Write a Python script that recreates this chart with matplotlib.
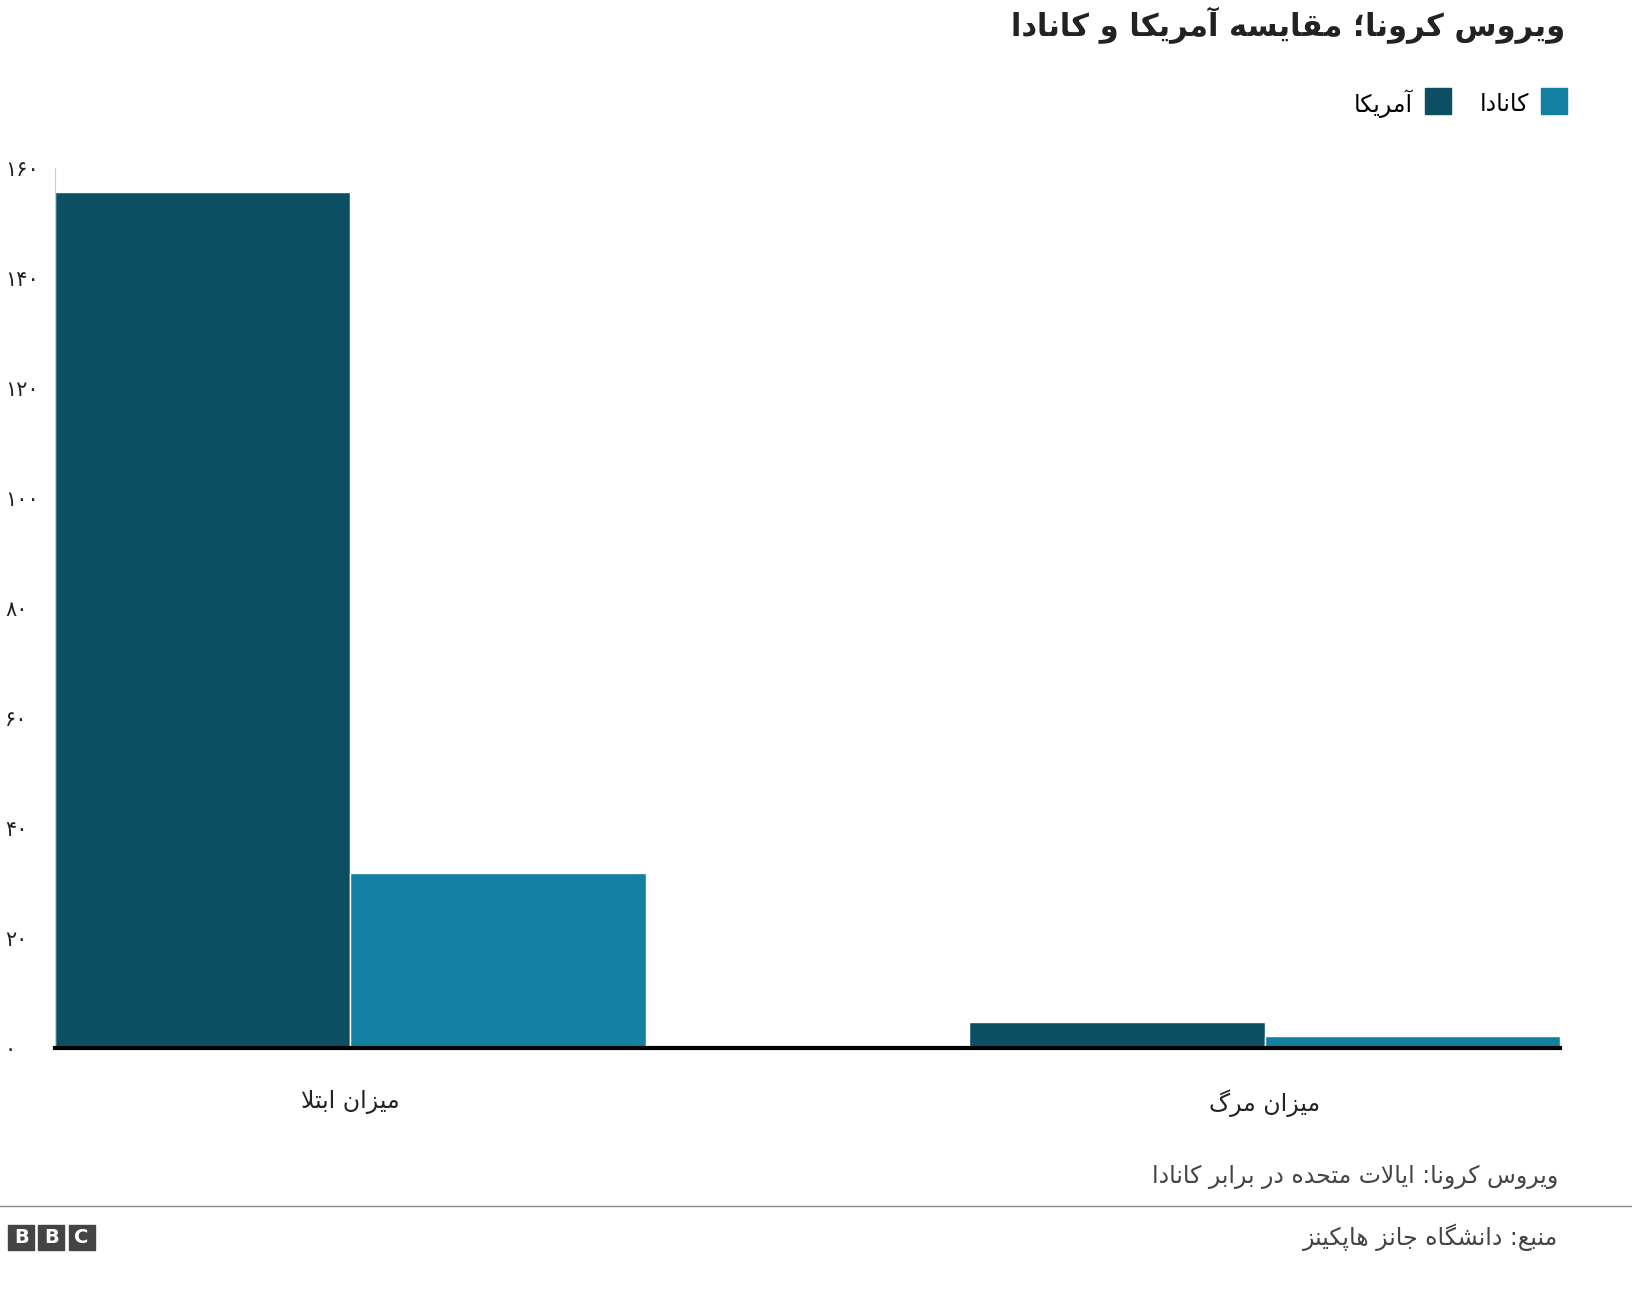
import matplotlib.pyplot as plt
import numpy as np

plt.rcParams['font.family'] = ['DejaVu Sans']

# data
categories = ['میزان ابتلا', 'میزان مرگ']
usa = [155.6, 4.7]
canada = [31.8, 2.2]
yticks = [0, 20, 40, 60, 80, 100, 120, 140, 160]
title = 'ویروس کرونا؛ مقایسه آمریکا و کانادا'
subtitle = 'ویروس کرونا: ایالات متحده در برابر کانادا'
source = 'منبع: دانشگاه جانز هاپکینز'
legend_names = ['آمریکا', 'کانادا']

# minimal persian shaping: isolated, final, initial, medial
FORMS = {
    'ا': (0xFE8D, 0xFE8E, None, None), 'آ': (0xFE81, 0xFE82, None, None),
    'ب': (0xFE8F, 0xFE90, 0xFE91, 0xFE92), 'پ': (0xFB56, 0xFB57, 0xFB58, 0xFB59),
    'ت': (0xFE95, 0xFE96, 0xFE97, 0xFE98), 'ج': (0xFE9D, 0xFE9E, 0xFE9F, 0xFEA0),
    'ح': (0xFEA1, 0xFEA2, 0xFEA3, 0xFEA4), 'د': (0xFEA9, 0xFEAA, None, None),
    'ر': (0xFEAD, 0xFEAE, None, None), 'ز': (0xFEAF, 0xFEB0, None, None),
    'س': (0xFEB1, 0xFEB2, 0xFEB3, 0xFEB4), 'ش': (0xFEB5, 0xFEB6, 0xFEB7, 0xFEB8),
    'ع': (0xFEC9, 0xFECA, 0xFECB, 0xFECC), 'ق': (0xFED5, 0xFED6, 0xFED7, 0xFED8),
    'ک': (0xFB8E, 0xFB8F, 0xFB90, 0xFB91), 'گ': (0xFB92, 0xFB93, 0xFB94, 0xFB95),
    'ل': (0xFEDD, 0xFEDE, 0xFEDF, 0xFEE0), 'م': (0xFEE1, 0xFEE2, 0xFEE3, 0xFEE4),
    'ن': (0xFEE5, 0xFEE6, 0xFEE7, 0xFEE8), 'ه': (0xFEE9, 0xFEEA, 0xFEEB, 0xFEEC),
    'و': (0xFEED, 0xFEEE, None, None), 'ی': (0xFBFC, 0xFBFD, 0xFBFE, 0xFBFF),
    'لا': (0xFEFB, 0xFEFC, None, None),
}


def shape(s):
    toks = []
    i = 0
    while i < len(s):
        if s[i:i + 2] == 'لا':
            toks.append('لا')
            i += 2
        else:
            toks.append(s[i])
            i += 1
    out = []
    for k, t in enumerate(toks):
        if t not in FORMS:
            out.append(t)
            continue
        f = FORMS[t]
        prev = toks[k - 1] if k > 0 else None
        nxt = toks[k + 1] if k + 1 < len(toks) else None
        join_prev = prev in FORMS and FORMS[prev][2] is not None
        join_next = nxt in FORMS and f[2] is not None
        if join_prev and join_next:
            c = f[3]
        elif join_prev:
            c = f[1]
        elif join_next:
            c = f[2]
        else:
            c = f[0]
        out.append(chr(c))
    return ''.join(out)[::-1]


def fa_num(n):
    return ''.join(chr(0x06F0 + int(d)) for d in str(n))


dark = '#0c4f62'
light = '#1380a1'

fig = plt.figure(figsize=(16.32, 13.12), dpi=100)
ax = fig.add_axes([0.0337, 0.2012, 0.9223, 0.6707])

x = np.arange(len(categories))
w = 0.323
ax.bar(x - w, usa, w, align='edge', color=dark, edgecolor='white', linewidth=1)
ax.bar(x, canada, w, align='edge', color=light, edgecolor='white', linewidth=1)
ax.set_xlim(-w, 1 + w)
ax.set_ylim(0, 160)

ax.set_yticks(yticks)
ax.set_yticklabels([fa_num(v) for v in yticks], fontsize=15, color='#222222')
ax.set_xticks(x)
ax.set_xticklabels([shape(c) for c in categories], fontsize=17, color='#222222')
ax.tick_params(axis='y', length=0, pad=36)
ax.tick_params(axis='x', length=0, pad=30)
for t in ax.get_yticklabels():
    t.set_horizontalalignment('left')
ax.spines['top'].set_visible(False)
ax.spines['right'].set_visible(False)
ax.spines['left'].set_color('#cccccc')
ax.spines['bottom'].set_linewidth(3)
ax.spines['bottom'].set_color('black')

fig.text(0.959, 0.981, shape(title), ha='right', va='center', fontsize=22,
         fontweight='bold', color='#222222')

# legend
fig.patches.append(plt.Rectangle((0.944, 0.913), 0.016, 0.02, color=light,
                                 transform=fig.transFigure))
fig.text(0.937, 0.921, shape(legend_names[1]), ha='right', va='center', fontsize=17)
fig.patches.append(plt.Rectangle((0.873, 0.913), 0.016, 0.02, color=dark,
                                 transform=fig.transFigure))
fig.text(0.866, 0.921, shape(legend_names[0]), ha='right', va='center', fontsize=17)

fig.text(0.955, 0.103, shape(subtitle), ha='right', va='center', fontsize=17, color='#444444')
fig.add_artist(plt.Line2D([0, 1], [0.081, 0.081], color='#888888', linewidth=1,
                          transform=fig.transFigure))
fig.text(0.955, 0.057, shape(source), ha='right', va='center', fontsize=17, color='#444444')

# BBC logo
for i, ch in enumerate('BBC'):
    x0 = 0.005 + i * 0.0185
    fig.patches.append(plt.Rectangle((x0, 0.047), 0.016, 0.019, color='#444444',
                                     transform=fig.transFigure))
    fig.text(x0 + 0.008, 0.0565, ch, ha='center', va='center', fontsize=14,
             fontweight='bold', color='white')

fig.savefig('out.png', dpi=100)
